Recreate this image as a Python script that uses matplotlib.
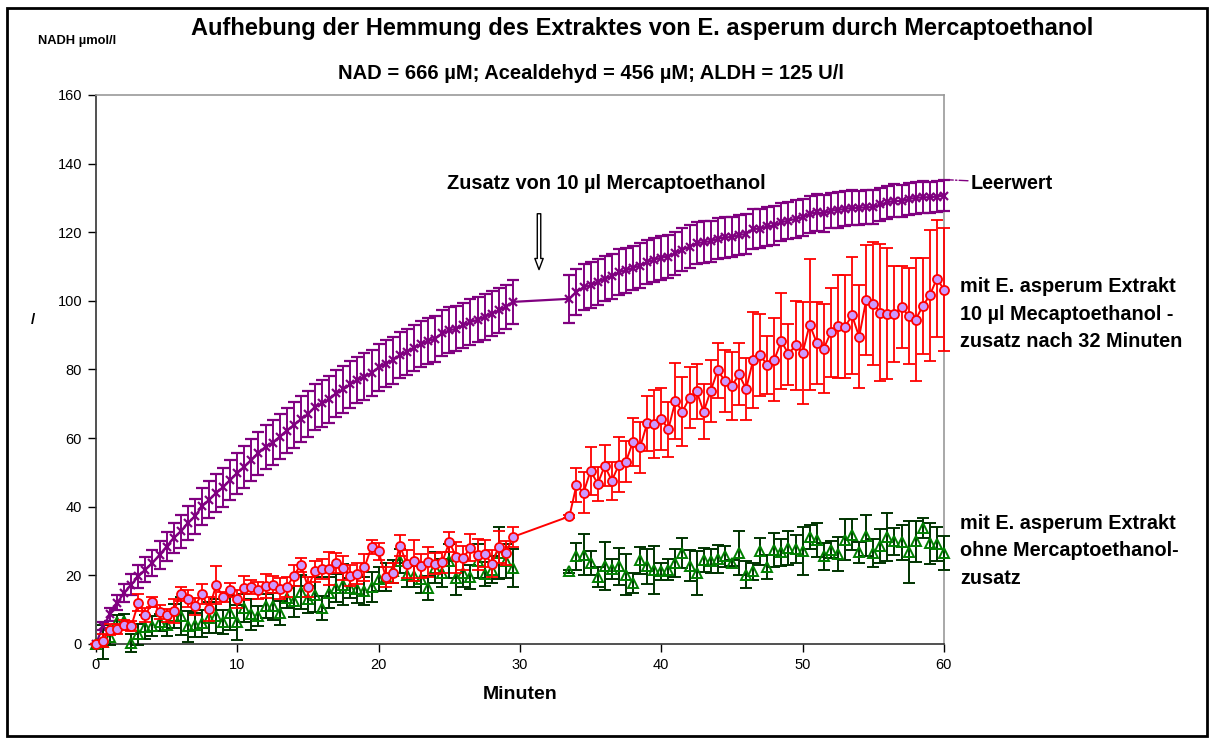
"""
Aufhebung der Hemmung durch Mercaptoethanol - Nachbau des Excel-Diagramms.
"""
import matplotlib
matplotlib.use('Agg')
import matplotlib.pyplot as plt
from matplotlib.patches import Rectangle
import numpy as np

plt.rcParams['font.family'] = ['Liberation Sans', 'DejaVu Sans']

# Messzeitpunkte (Minuten), Luecke bei der Zugabe
t_vor = np.arange(0, 30, 0.5)
t_nach = np.arange(33.5, 60.5, 0.5)

leer_vor = [0.0, 5.2, 8.6, 12.0, 14.9, 17.3, 19.7, 21.7, 23.6, 26.0,
            28.4, 30.9, 32.8, 35.2, 37.2, 40.1, 42.0, 44.0, 45.7, 47.8,
            49.8, 51.7, 53.6, 55.6, 57.5, 58.7, 60.4, 62.2, 63.8, 65.5,
            67.0, 69.1, 70.1, 71.3, 73.0, 74.2, 75.7, 76.9, 77.9, 79.0,
            80.6, 81.7, 82.7, 84.2, 85.1, 86.4, 87.3, 88.3, 89.0, 90.5,
            91.4, 91.9, 92.9, 93.8, 94.5, 95.3, 96.3, 97.2, 98.2, 99.7]
leer_nach = [100.6, 102.6, 104.0, 104.5, 105.5, 106.5, 107.1, 108.4, 108.9, 109.6,
             110.3, 111.3, 112.0, 112.6, 112.9, 113.9, 114.9, 115.8, 116.8, 117.1,
             117.4, 118.1, 118.5, 118.6, 119.2, 119.5, 121.0,
             121.0, 121.7, 122.0, 122.9, 123.4, 123.9, 124.4, 125.3, 125.8, 125.5,
             126.3, 126.5, 126.8, 127.1, 127.1, 127.3, 127.3, 128.1, 128.7, 129.2,
             129.0, 129.7, 130.0, 130.2, 130.2, 130.4, 130.7]
leer_err_vor = [0, 1.2, 1.8, 2.2, 2.6, 3.0, 3.3, 3.6, 3.9, 4.1,
                4.3, 4.5, 4.7, 4.9, 5.1, 5.3, 5.4, 5.6, 5.7, 5.9,
                6.0, 6.1, 6.2, 6.3, 6.4, 6.5, 6.5, 6.6, 6.6, 6.7,
                6.7, 6.7, 6.8, 6.8, 6.8, 6.8, 6.8, 6.8, 6.8, 6.8,
                6.8, 6.8, 6.8, 6.8, 6.7, 6.7, 6.7, 6.7, 6.7, 6.7,
                6.7, 6.6, 6.6, 6.6, 6.6, 6.6, 6.6, 6.5, 6.5, 6.5]
leer_err_nach = [7.0, 6.8, 6.8, 6.7, 6.7, 6.6, 6.6, 6.6, 6.5, 6.5,
                 6.5, 6.5, 6.4, 6.4, 6.3, 6.3, 6.3, 6.2, 6.2, 6.1,
                 6.0, 6.0, 6.0, 5.9, 5.9, 5.8, 5.8, 5.7, 5.7, 5.6,
                 5.6, 5.5, 5.5, 5.4, 5.4, 5.3, 5.3, 5.2, 5.2, 5.1,
                 5.1, 5.0, 5.0, 4.9, 4.9, 4.8, 4.8, 4.7, 4.7, 4.6,
                 4.6, 4.5, 4.5, 4.4]

mit_vor = [0.0, 1.0, 4.2, 4.4, 5.5, 5.2, 12.0, 8.4, 12.3, 9.4,
           8.3, 9.5, 14.6, 13.2, 11.0, 14.6, 10.2, 17.1, 13.7, 15.8,
           13.1, 16.3, 16.6, 15.6, 16.8, 17.3, 16.1, 16.6, 19.9, 23.1,
           16.6, 21.2, 21.9, 21.9, 23.6, 22.1, 19.9, 20.5, 22.3, 28.3,
           27.0, 19.5, 20.7, 28.7, 23.3, 24.3, 22.6, 23.9, 23.4, 23.8,
           29.7, 25.3, 25.2, 28.1, 26.0, 26.3, 23.4, 28.3, 26.5, 31.2]
mit_nach = [37.2, 46.3, 44.1, 50.5, 46.7, 51.9, 47.6, 52.2, 53.1, 59.0,
            57.3, 64.3, 64.1, 65.6, 62.6, 70.8, 67.7, 71.8, 73.7, 67.7,
            73.8, 79.8, 76.6, 75.2, 78.6, 74.3, 82.7,
            84.2, 81.3, 82.9, 88.3, 84.4, 87.1, 84.8, 93.1, 87.8, 86.1,
            90.8, 92.6, 92.4, 95.8, 89.5, 100.3, 99.2, 96.6, 96.3, 96.3,
            98.2, 95.6, 94.5, 98.5, 101.6, 106.5, 103.3]
mit_err_vor = [0, 2.0, 1.5, 1.5, 1.5, 1.5, 2.5, 2.0, 1.5, 2.0,
               2.0, 3.5, 2.0, 2.5, 2.5, 3.0, 3.5, 5.5, 1.5, 2.0,
               2.5, 3.5, 2.0, 2.5, 3.5, 2.5, 3.0, 3.0, 3.0, 2.0,
               3.0, 3.0, 3.0, 4.8, 3.0, 3.5, 3.0, 3.0, 4.0, 2.0,
               2.5, 3.0, 3.0, 3.0, 4.0, 6.0, 3.5, 4.5, 3.0, 3.0,
               3.0, 4.5, 3.5, 4.0, 4.5, 4.0, 4.0, 4.7, 3.5, 3.0]
mit_err_nach = [0.5, 5, 6, 7, 5, 6, 5.5, 8, 6, 7,
                7.5, 8, 10, 9, 8, 11, 10, 9, 8, 8,
                9, 8, 9, 10, 9, 9, 14,
                12, 8.5, 12, 14, 9, 13, 15, 19, 12, 13,
                13, 15, 15, 17, 15, 16, 18, 20, 19, 14,
                12, 14, 18, 14, 19, 17, 18]

ohne_vor = [0.0, 0.5, 2.1, 6.3, 6.6, 0.3, 2.8, 5.0, 5.2, 6.3,
            5.4, 8.1, 8.2, 5.2, 5.4, 6.0, 7.6, 8.1, 6.3, 9.1,
            6.3, 10.5, 8.6, 8.1, 11.0, 11.0, 9.1, 13.4, 12.4, 15.1,
            13.0, 14.4, 10.5, 14.9, 16.3, 17.3, 16.3, 16.0, 15.4, 16.6,
            18.8, 19.5, 21.2, 24.1, 20.2, 19.7, 18.8, 16.3, 22.2, 20.7,
            24.1, 19.2, 20.7, 19.5, 24.1, 20.5, 21.7, 26.5, 24.1, 22.2]
ohne_nach = [21.2, 25.5, 26.0, 23.6, 19.5, 22.6, 21.9, 22.6, 20.2, 17.8,
             24.4, 22.6, 21.7, 21.2, 21.7, 23.6, 26.5, 22.8, 20.7, 24.6,
             24.1, 24.8, 25.5, 23.6, 26.5, 20.2, 21.2,
             27.0, 22.4, 27.3, 26.7, 28.0, 27.7, 27.0, 31.2, 30.4, 25.5,
             27.5, 26.3, 30.4, 31.8, 26.7, 31.5, 26.5, 28.6, 31.3, 29.9,
             29.6, 26.7, 29.9, 33.8, 29.4, 29.2, 26.5]
ohne_err_vor = [0, 5.0, 2.5, 2.0, 2.0, 2.5, 3.0, 3.5, 3.0, 2.5,
                3.0, 3.5, 5.5, 4.5, 3.5, 4.0, 4.5, 5.0, 3.5, 5.0,
                5.0, 4.0, 4.5, 3.0, 3.5, 4.0, 3.5, 3.0, 4.5, 5.0,
                4.0, 5.0, 3.5, 4.5, 4.0, 6.0, 3.0, 4.0, 4.0, 4.5,
                3.5, 4.0, 3.3, 3.5, 3.5, 3.0, 4.0, 3.5, 4.5, 4.0,
                5.0, 5.0, 4.0, 3.5, 5.0, 3.5, 4.0, 7.5, 5.0, 5.5]
ohne_err_nach = [0.5, 4, 6, 3.5, 3, 7, 3, 5.5, 6, 3,
                 4, 5, 7, 2.5, 3, 4, 4.5, 4.5, 6.5, 3.5,
                 3.5, 4, 3, 1, 6.5, 4, 2.5,
                 4, 3.5, 5, 4, 5, 4, 7, 3.5, 5, 4,
                 2.5, 5, 6, 4.5, 3, 6, 4, 5, 7, 4,
                 5, 9, 6, 3, 6, 5, 5]

PURPLE = '#800080'
RED = '#FF0000'
GREEN = '#008000'
DARKGREEN = '#003300'

t = np.concatenate([t_vor, t_nach])
leer = leer_vor + leer_nach
mit = mit_vor + mit_nach
ohne = ohne_vor + ohne_nach

fig = plt.figure(figsize=(12.1, 7.38), dpi=100)
ax = fig.add_axes([0.0793, 0.1274, 0.7008, 0.7439])

ax.errorbar(t, leer, yerr=leer_err_vor + leer_err_nach, color=PURPLE,
            marker='x', markersize=6, markeredgewidth=1.6, linewidth=1.6,
            elinewidth=1.4, capsize=4, capthick=1.4, zorder=3)
ax.errorbar(t, mit, yerr=mit_err_vor + mit_err_nach, color=RED,
            marker='o', markersize=6.5, markerfacecolor='#CC99FF',
            markeredgecolor=RED, markeredgewidth=1.3, linewidth=1.4,
            elinewidth=1.3, capsize=4, capthick=1.3, zorder=4)
ax.errorbar(t, ohne, yerr=ohne_err_vor + ohne_err_nach, fmt='^',
            markersize=7, markerfacecolor='none', markeredgecolor=GREEN,
            markeredgewidth=1.4, ecolor=DARKGREEN, elinewidth=1.4,
            capsize=4, capthick=1.4, zorder=3)
# Excel schneidet Fehlerbalken am Rand nicht ab
for art in ax.get_children():
    try:
        art.set_clip_on(False)
    except AttributeError:
        pass

ax.set_xlim(0, 60)
ax.set_ylim(0, 160)
ax.set_xticks(range(0, 61, 10))
ax.set_yticks(range(0, 161, 20))
ax.tick_params(direction='out', length=6, width=1, labelsize=10.5, pad=4)
for side in ['left', 'bottom']:
    ax.spines[side].set_color('#333333')
    ax.spines[side].set_linewidth(1.2)
for side in ['top', 'right']:
    ax.spines[side].set_color('#999999')
    ax.spines[side].set_linewidth(1.2)
ax.set_xlabel('Minuten', fontsize=14, fontweight='bold', labelpad=10)

fig.text(0.531, 0.962, 'Aufhebung der Hemmung des Extraktes von E. asperum durch Mercaptoethanol',
         ha='center', va='center', fontsize=17, fontweight='bold')
fig.text(0.488, 0.901, 'NAD = 666 µM; Acealdehyd = 456 µM; ALDH = 125 U/l',
         ha='center', va='center', fontsize=14.5, fontweight='bold')
fig.text(0.031, 0.944, 'NADH µmol/l', ha='left', va='center', fontsize=9.3, fontweight='bold')
fig.text(0.0275, 0.566, '/', ha='center', va='center', fontsize=11, fontweight='bold')

ax.text(36.1, 134.2, 'Zusatz von 10 µl Mercaptoethanol', ha='center', va='center',
        fontsize=14.3, fontweight='bold')
ax.annotate('', xy=(31.35, 108.3), xytext=(31.35, 126.2),
            arrowprops=dict(arrowstyle='simple,head_length=0.8,head_width=0.6,tail_width=0.25',
                            fc='white', ec='black', lw=1))

ax.annotate('Leerwert', xy=(60.2, 135.3), xytext=(61.9, 134.3), va='center',
            fontsize=14.2, fontweight='bold', annotation_clip=False,
            arrowprops=dict(arrowstyle='-', color=PURPLE, linestyle='-.', lw=1,
                            shrinkA=0, shrinkB=0,
                            relpos=(0, 0.62)))
fig.text(0.7934, 0.5745, 'mit E. asperum Extrakt\n10 µl Mecaptoethanol -\nzusatz nach 32 Minuten',
         ha='left', va='center', fontsize=14.3, fontweight='bold', linespacing=1.58)
fig.text(0.7934, 0.2534, 'mit E. asperum Extrakt\nohne Mercaptoethanol-\nzusatz',
         ha='left', va='center', fontsize=14.3, fontweight='bold', linespacing=1.58)

fig.patches.append(Rectangle((0.0058, 0.003), 0.992, 0.986, transform=fig.transFigure,
                             fill=False, edgecolor='black', linewidth=2))

fig.savefig('out.png', dpi=100, facecolor='white')
